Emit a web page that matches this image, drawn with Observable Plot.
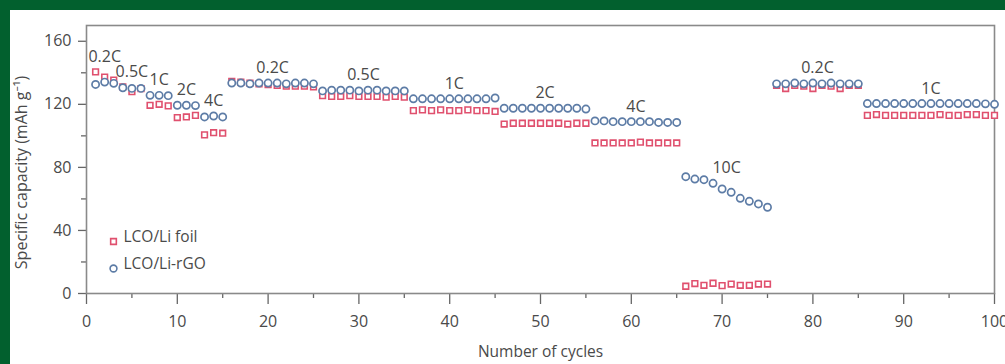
<!DOCTYPE html>
<html>
<head>
<meta charset="utf-8">
<script src="https://cdn.jsdelivr.net/npm/d3@7"></script>
<script src="https://cdn.jsdelivr.net/npm/@observablehq/plot@0.6"></script>
<style>
  html, body { margin: 0; padding: 0; background: #02602e; width: 1005px; height: 364px; overflow: hidden; }
  #panel { position: absolute; left: 10px; top: 10px; width: 995px; height: 354px; background: #ffffff; }
  svg { font-family: "Open Sans", "Noto Sans", sans-serif; }
</style>
</head>
<body>
<div id="panel"></div>
<script>
// ---- data ----
const cycles = d3.range(1, 101);
const seriesNames = ["LCO/Li foil", "LCO/Li-rGO"];
const liFoil = [
  140.6, 137.3, 135.4,
  131, 128, 130,
  119.4, 120, 119,
  111.6, 112, 113,
  100.6, 102, 101.7,
  134.5, 134, 133.5, 133, 132.5, 132, 131.5, 131.5, 131.5, 131,
  125.5, 125, 125, 125.5, 125, 125, 125, 124.5, 125, 124.5,
  116, 116.5, 116, 116.5, 116, 116, 116.5, 116, 116, 115.5,
  107.5, 108, 108, 108, 108, 108, 108, 107.5, 108, 108,
  95.5, 95.5, 95.5, 95.5, 95.5, 96, 95.5, 95.5, 95.5, 95.5,
  4.6, 6.3, 5.2, 6.5, 5, 6, 5.2, 5.2, 6, 6,
  132, 130, 132, 131.5, 130, 132, 131.5, 130, 132, 132,
  113, 113.5, 113, 113, 113, 113, 113, 113, 113.5, 113, 113, 113.5, 113.5, 113, 113
];
const liRGO = [
  132.6, 134.1, 133.3,
  130.5, 130.1, 130.1,
  125.7, 125.7, 125.5,
  119.4, 119.4, 119.2,
  112, 112.6, 112,
  133.5, 133.5, 133, 133.5, 133.5, 133.5, 133, 133.5, 133.5, 133,
  128.5, 129, 129, 129, 128.5, 129, 129, 128.5, 128.5, 128.5,
  123.5, 123.5, 123.5, 123.5, 123.5, 123.5, 123.5, 123.5, 123.5, 124,
  117.5, 117.5, 117.5, 117.5, 117.5, 117.5, 117.5, 117.5, 117.5, 117,
  109.5, 109.5, 109, 109, 109, 109, 109, 108.5, 108.5, 108.5,
  74.1, 72.6, 72.2, 69.9, 66.3, 64.2, 60.4, 58.5, 56.8, 54.7,
  133, 133, 133.5, 133, 133.5, 133, 133.5, 133, 133, 133,
  120.5, 120.5, 120.5, 120.5, 120.5, 120.5, 120.5, 120.5, 120.5, 120.5, 120.5, 120.5, 120.5, 120.3, 120
];
const rateLabels = ["0.2C","0.5C","1C","2C","4C","0.2C","0.5C","1C","2C","4C","10C","0.2C","1C"];
const segStart = [1, 4, 7, 10, 13, 16, 26, 36, 46, 56, 66, 76, 86];
const segEnd   = [3, 6, 9, 12, 15, 25, 35, 45, 55, 65, 75, 85, 100];
const xTicks = [0, 10, 20, 30, 40, 50, 60, 70, 80, 90, 100];
const xMinorTicks = [5, 15, 25, 35, 45, 55, 65, 75, 85, 95];
const yTicks = [0, 40, 80, 120, 160];
const yMinorTicks = [20, 60, 100, 140];
const xTitle = "Number of cycles";
const yTitle = "Specific capacity (mAh g\u207B\u00B9)";

// ---- build tables ----
const foilData = cycles.map((c, i) => ({cycle: c, value: liFoil[i]}));
const rgoData = cycles.map((c, i) => ({cycle: c, value: liRGO[i]}));
const labelData = rateLabels.map((t, i) => {
  const mid = (segStart[i] + segEnd[i]) / 2;
  let m = -Infinity;
  for (let c = segStart[i]; c <= segEnd[i]; c++) {
    if (Math.abs(c - mid) <= 1.5) m = Math.max(m, liFoil[c - 1], liRGO[c - 1]);
  }
  return {text: t, cycle: mid, value: m};
});

const red = "#e0506e";
const blue = "#5d7ca6";
const ink = "#4a4a4a";

const chart = Plot.plot({
  width: 995,
  height: 354,
  marginLeft: 76,
  marginRight: 11,
  marginTop: 15,
  marginBottom: 71,
  x: {domain: [0, 100]},
  y: {domain: [0, 170]},
  style: {fontSize: "16px", color: ink, background: "white"},
  marks: [
    Plot.axisX({ticks: xTicks, tickSize: 11, tickPadding: 11, label: null, stroke: "#666", strokeWidth: 1.3, fontSize: 16}),
    Plot.axisX({ticks: xMinorTicks, tickSize: 5, text: null, label: null, stroke: "#666", strokeWidth: 1.3}),
    Plot.axisY({ticks: yTicks, tickSize: 8, tickPadding: 7, label: null, stroke: "#666", strokeWidth: 1.3, fontSize: 16}),
    Plot.axisY({ticks: yMinorTicks, tickSize: 5, text: null, label: null, stroke: "#666", strokeWidth: 1.3}),
    Plot.frame({stroke: "#8a8a8a", strokeWidth: 1.6}),
    Plot.dot(foilData, {x: "cycle", y: "value", symbol: "square", r: 3.2, stroke: red, strokeWidth: 1.6, fill: "white"}),
    Plot.dot(rgoData, {x: "cycle", y: "value", symbol: "circle", r: 3.6, stroke: blue, strokeWidth: 1.7, fill: "white"}),
    Plot.text(labelData, {x: "cycle", y: "value", text: "text", dy: -15, fontSize: 16, fill: ink}),
    Plot.text([xTitle], {text: d => d, frameAnchor: "bottom", dy: 63, fontSize: 15.5, fill: ink}),
    Plot.text([yTitle], {text: d => d, frameAnchor: "left", textAnchor: "middle", dx: -65, dy: 13, rotate: -90, fontSize: 16, fill: ink}),
    Plot.dot([seriesNames[0]], {frameAnchor: "bottom-left", dx: 27, dy: -52, symbol: "square", r: 3.2, stroke: red, strokeWidth: 1.6, fill: "white"}),
    Plot.text([seriesNames[0]], {text: d => d, frameAnchor: "bottom-left", dx: 37, dy: -52, textAnchor: "start", fontSize: 15.5, fill: ink}),
    Plot.dot([seriesNames[1]], {frameAnchor: "bottom-left", dx: 27, dy: -25, symbol: "circle", r: 3.4, stroke: blue, strokeWidth: 1.6, fill: "white"}),
    Plot.text([seriesNames[1]], {text: d => d, frameAnchor: "bottom-left", dx: 37, dy: -25, textAnchor: "start", fontSize: 15.5, fill: ink})
  ]
});
document.getElementById("panel").appendChild(chart);
</script>
</body>
</html>
